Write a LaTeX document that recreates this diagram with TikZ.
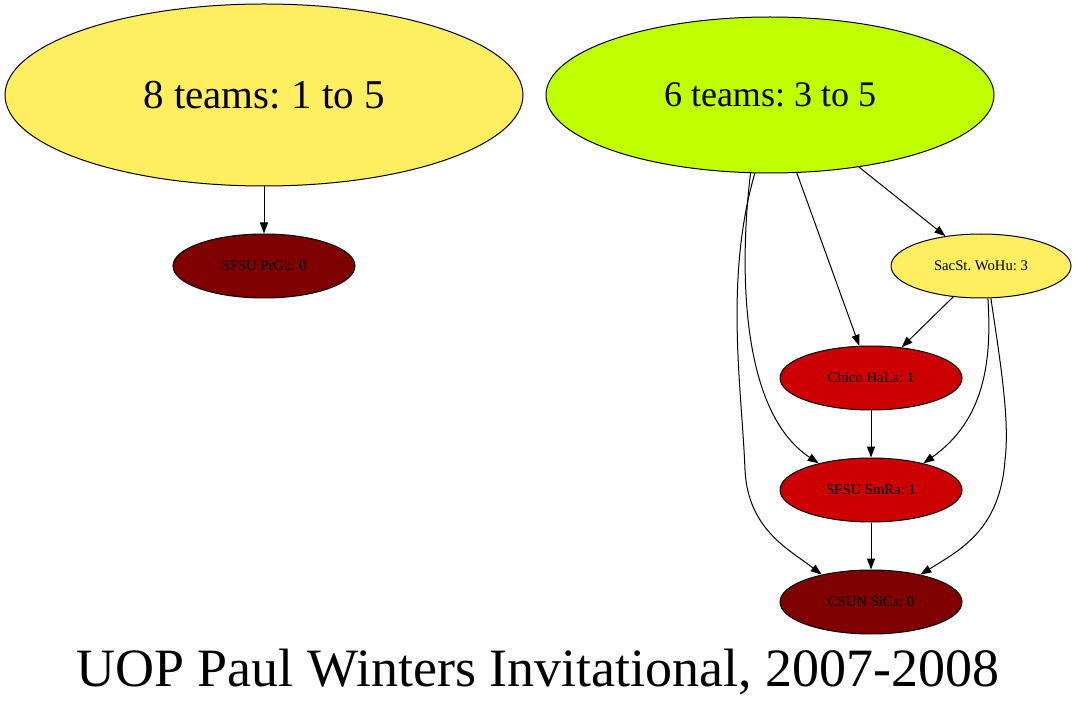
\documentclass[tikz,border=0pt]{standalone}
\usepackage{fontspec}
\setmainfont{Liberation Serif}
\usetikzlibrary{shapes.geometric,arrows.meta}
\definecolor{gyellow}{HTML}{FFEE5F}
\definecolor{glime}{HTML}{BFFF00}
\definecolor{gred}{HTML}{CC0000}
\definecolor{gdark}{HTML}{7F0000}
\tikzset{
  ell/.style={ellipse, draw=black, line width=1pt, inner sep=0pt},
  small/.style={ell, minimum width=182pt, minimum height=64pt, font=\fontsize{14.7}{16}\selectfont},
  edge/.style={draw=black, line width=1pt, -{Triangle[length=11pt,width=8pt]}}
}
\begin{document}
\frenchspacing
\begin{tikzpicture}[x=1pt,y=-1pt]
\useasboundingbox (0,0) rectangle (1077,711);
\node[ell, fill=gyellow, minimum width=518pt, minimum height=182pt, font=\fontsize{41}{45}\selectfont] (A) at (264,95) {8 teams: 1 to 5};
\node[ell, fill=glime, minimum width=448pt, minimum height=156pt, font=\fontsize{36}{40}\selectfont] (B) at (770,95) {6 teams: 3 to 5};
\node[small, fill=gdark] (prgu) at (264,266) {SFSU PrGu: 0};
\node[small, fill=gyellow, minimum width=180pt] (wohu) at (981,266) {SacSt. WoHu: 3};
\node[small, fill=gred] (hala) at (871,378) {Chico HaLa: 1};
\node[small, fill=gred] (smra) at (871,490) {SFSU SmRa: 1};
\node[small, fill=gdark] (sica) at (871,602) {CSUN SiCa: 0};
\node[font=\fontsize{54}{60}\selectfont] (title) at (538,672) {UOP Paul Winters Invitational, 2007-2008};

\draw[edge] (A.south) -- (prgu.north);
\draw[edge] (B.321) -- (wohu.140);
\draw[edge] (B.289) -- (hala.110);
\draw[edge] (wohu.228) -- (hala.45);
\draw[edge] (hala.south) -- (smra.north);
\draw[edge] (smra.south) -- (sica.north);
\draw[edge] (B.256) .. controls (740,260) and (738,410) .. (smra.153);
\draw[edge] (B.259) .. controls (724,280) and (742,390) .. (745,470) .. controls (748,530) and (790,550) .. (sica.151);
\draw[edge] (wohu.282) .. controls (992,360) and (985,420) .. (smra.27);
\draw[edge] (wohu.287) .. controls (1000,360) and (1010,420) .. (1005,460) .. controls (1000,530) and (960,550) .. (sica.29);
\end{tikzpicture}
\end{document}
